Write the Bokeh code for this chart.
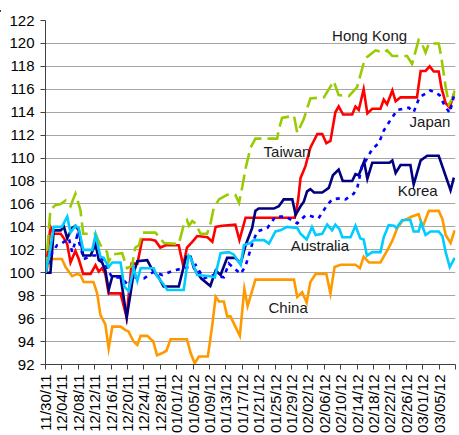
import math
from bokeh.plotting import figure
from bokeh.models import FixedTicker, Label, Range1d, Div
from bokeh.layouts import column
from bokeh.embed import file_html
from bokeh.resources import INLINE

# x = days since 11/30/11
tick_days = [0, 4, 8, 12, 16, 20, 24, 28, 32, 36, 40, 44, 48, 52, 56, 60, 64, 68, 72, 76, 80, 84, 88, 92, 96, 100]
tick_labels = ["11/30/11", "12/04/11", "12/08/11", "12/12/11", "12/16/11", "12/20/11", "12/24/11",
               "12/28/11", "01/01/12", "01/05/12", "01/09/12", "01/13/12", "01/17/12", "01/21/12",
               "01/25/12", "01/29/12", "02/02/12", "02/06/12", "02/10/12", "02/14/12", "02/18/12",
               "02/22/12", "02/26/12", "03/01/12", "03/05/12", ""]
y_ticks = [92, 94, 96, 98, 100, 102, 104, 106, 108, 110, 112, 114, 116, 118, 120, 122]

china = [(0, 100), (1.2, 101.2), (4.0, 101.2), (4.9, 100.5), (6.5, 99.7), (7.7, 99.9), (8.5, 99.8), (9.3, 99.2),
         (11.7, 99.2), (12.6, 98.2), (13.4, 96.3), (14.6, 95.5), (15.4, 93.4), (16.3, 95.3), (18.3, 95.3),
         (19.5, 95.0), (20.2, 94.9), (21.5, 94.0), (22.4, 93.7), (23.2, 94.5), (24.8, 94.5), (26.3, 94.0),
         (27.2, 92.8), (28.5, 93.0), (29.5, 93.2), (30.5, 94.2), (34.5, 94.2), (35.4, 93.0), (36.4, 92.1),
         (37.4, 92.7), (39.6, 92.7), (40.7, 95.5), (41.5, 97.9), (42.3, 97.5), (43.5, 97.5), (44.3, 96.2),
         (45.1, 96.2), (47.4, 94.5), (48.5, 98.6), (49.3, 97.1), (51.2, 99.4), (60.6, 99.4), (61.4, 97.9),
         (62.6, 98.3), (63.7, 97.4), (64.6, 99.2), (65.9, 99.9), (68.5, 99.9), (69.5, 98.2), (70.5, 100.5),
         (72.0, 100.7), (75.6, 100.7), (76.7, 100.4), (77.6, 101.4), (78.9, 100.9), (81.7, 100.9),
         (83.3, 101.9), (84.6, 102.8), (85.8, 103.9), (87.0, 104.5), (89.4, 104.9), (91.0, 105.1),
         (92.0, 104.0), (93.5, 105.4), (95.9, 105.4), (96.8, 104.7), (97.6, 103.3), (98.8, 102.6), (99.8, 103.7)]

taiwan = [(0, 100), (1.2, 104.0), (1.9, 103.4), (3.7, 103.4), (4.5, 103.0), (5.3, 102.5), (6.1, 100.9),
          (7.3, 101.9), (8.1, 101.2), (9.2, 99.9), (11.0, 99.9), (12.2, 100.65), (13.0, 100.1), (13.8, 100.4),
          (14.6, 99.9), (15.4, 98.2), (18.3, 98.2), (19.8, 96.1), (21.0, 100.8), (22.4, 100.8), (23.6, 102.9),
          (25.6, 102.9), (26.8, 102.8), (28.0, 102.2), (29.3, 102.4), (32.5, 102.4), (33.6, 100.6),
          (34.5, 102.2), (35.8, 102.7), (37.0, 103.2), (39.5, 103.1), (40.7, 102.7), (41.5, 104.0),
          (43.1, 104.1), (46.3, 104.2), (47.3, 102.85), (48.8, 104.8), (60.8, 104.8), (61.6, 106.3),
          (62.2, 108.25), (63.4, 109.3), (64.6, 110.9), (66.3, 112.1), (67.5, 112.1), (68.5, 111.3),
          (69.5, 111.5), (70.7, 114.0), (71.5, 114.5), (72.6, 113.8), (74.8, 113.8), (75.6, 114.5),
          (76.4, 114.2), (77.6, 116.0), (78.5, 113.9), (79.7, 114.3), (81.7, 114.3), (82.5, 115.1),
          (83.3, 114.7), (84.6, 115.9), (85.4, 114.95), (86.6, 115.3), (90.6, 115.3), (91.5, 117.6),
          (92.7, 117.6), (93.7, 118.0), (94.7, 117.55), (95.9, 117.55), (96.6, 116.1), (97.6, 114.8),
          (98.6, 114.4), (99.6, 115.6)]

korea = [(0, 100), (1.2, 100), (2.0, 103.7), (3.7, 103.7), (4.5, 104.0), (5.3, 103.0), (6.5, 103.9),
         (7.3, 104.1), (8.1, 103.7), (9.2, 101.5), (11.0, 101.5), (12.2, 102.5), (13.0, 101.1), (13.8, 100.9),
         (14.6, 100.2), (15.4, 98.5), (16.3, 99.7), (18.3, 99.7), (19.8, 96.1), (20.7, 98.1), (21.5, 100.0),
         (22.4, 101.0), (24.8, 101.1), (26.0, 100.3), (27.6, 99.6), (28.8, 98.8), (32.5, 98.8), (34.3, 101.4),
         (35.4, 101.4), (36.2, 100.4), (38.0, 99.5), (40.2, 98.85), (41.5, 100.2), (42.7, 99.8), (44.3, 101.3),
         (46.3, 101.3), (47.6, 100.8), (48.8, 102.4), (50.4, 103.9), (51.2, 105.4), (52.0, 105.6),
         (55.7, 105.6), (56.9, 105.8), (58.1, 106.4), (60.2, 106.4), (61.0, 105.05), (62.2, 105.8),
         (63.0, 106.2), (63.8, 107.1), (64.6, 107.3), (65.5, 107.0), (67.5, 107.0), (69.1, 107.4),
         (70.1, 108.5), (71.5, 109.0), (72.5, 108.0), (74.8, 108.0), (75.6, 108.6), (76.4, 108.5),
         (77.7, 109.7), (78.5, 108.2), (79.7, 109.6), (83.9, 109.6), (84.6, 109.8), (85.4, 108.7),
         (86.6, 109.4), (89.0, 109.4), (89.8, 107.7), (91.5, 109.8), (93.1, 110.2), (95.9, 110.2),
         (98.8, 107.2), (99.6, 108.3)]

hong_kong = [(0, 100), (1.2, 105.5), (2.4, 105.9), (3.7, 106.0), (4.9, 106.3), (6.1, 105.8), (7.3, 106.9),
             (8.5, 105.5), (9.2, 103.4), (12.2, 103.4), (13.4, 102.4), (14.2, 102.2), (15.0, 101.8),
             (15.4, 100.95), (16.3, 101.6), (18.7, 101.7), (19.9, 100.4), (21.1, 100.6), (21.9, 102.2),
             (22.8, 102.4), (23.6, 103.5), (26.8, 103.5), (28.9, 102.6), (32.5, 102.5), (33.8, 104.3),
             (34.5, 104.6), (35.0, 104.1), (35.8, 104.5), (36.6, 104.3), (37.8, 103.4), (39.4, 103.4),
             (40.2, 104.2), (41.0, 105.6), (42.3, 106.4), (44.3, 106.8), (46.3, 106.8), (47.2, 106.1),
             (48.0, 107.5), (48.8, 109.1), (50.0, 110.9), (51.2, 111.7), (56.5, 111.7), (56.9, 112.5),
             (57.7, 113.5), (60.6, 113.7), (61.4, 112.2), (63.0, 113.4), (64.6, 115.2), (67.9, 115.3),
             (70.3, 116.7), (71.5, 115.5), (74.0, 115.4), (76.0, 116.2), (77.7, 118.4), (78.4, 118.8),
             (80.5, 119.4), (82.5, 119.2), (83.3, 119.4), (84.6, 118.9), (88.2, 118.9), (89.4, 118.2),
             (91.0, 120.3), (91.8, 120.0), (92.7, 119.2), (93.5, 120.0), (95.9, 120.0), (96.5, 118.9),
             (97.6, 116.2), (98.4, 114.7), (99.3, 115.2), (100, 116.15)]

japan = [(0, 100), (1.2, 101.5), (2.8, 102.4), (3.7, 102.5), (5.7, 103.0), (6.5, 101.8), (7.7, 103.2),
         (8.5, 102.3), (9.3, 101.2), (11.4, 101.5), (12.2, 101.5), (14.2, 101.1), (15.4, 100.1), (16.3, 99.6),
         (18.3, 99.6), (20.3, 98.9), (21.1, 99.6), (24.0, 99.5), (26.4, 100.1), (28.5, 99.8), (31.3, 100.2),
         (35.0, 100.5), (36.6, 100.7), (38.6, 99.5), (41.0, 99.8), (43.5, 99.6), (44.7, 100.8), (47.6, 99.9),
         (48.8, 100.6), (50.4, 102.5), (51.6, 103.6), (54.1, 103.9), (56.1, 104.9), (58.5, 104.9),
         (61.4, 104.3), (63.4, 105.0), (64.2, 105.0), (66.6, 104.75), (68.5, 105.8), (69.9, 106.4),
         (72.0, 106.5), (73.2, 106.4), (75.2, 106.9), (76.1, 107.5), (77.2, 109.3), (78.0, 109.7),
         (79.7, 110.8), (81.3, 111.3), (82.5, 112.4), (84.1, 113.3), (85.8, 114.2), (88.6, 114.4),
         (89.8, 114.0), (91.2, 115.3), (93.9, 115.9), (96.1, 115.5), (97.3, 114.6), (98.6, 113.95),
         (99.6, 115.4)]

australia = [(0, 100), (1.2, 102.1), (2.0, 104.0), (4.0, 104.0), (5.3, 104.9), (6.1, 103.5), (7.3, 104.1),
             (8.1, 103.9), (9.2, 102.0), (11.4, 102.0), (12.2, 103.3), (13.4, 101.4), (14.2, 101.3),
             (15.4, 100.5), (16.3, 100.9), (18.3, 100.9), (19.2, 98.8), (20.3, 98.4), (21.5, 100.4),
             (22.4, 99.3), (23.2, 100.4), (26.4, 100.4), (27.2, 99.7), (28.8, 99.0), (29.7, 98.5),
             (33.7, 98.5), (34.9, 101.5), (35.4, 101.3), (37.0, 99.8), (40.2, 99.7), (41.3, 99.6),
             (42.7, 101.7), (44.7, 101.8), (45.9, 101.6), (47.6, 100.7), (48.4, 102.4), (50.0, 102.6),
             (50.8, 102.85), (53.3, 102.85), (54.5, 102.55), (56.1, 103.6), (57.3, 103.7), (58.9, 104.0),
             (61.4, 103.9), (62.2, 103.4), (63.7, 102.9), (65.0, 104.0), (65.9, 103.3), (67.5, 103.4),
             (68.7, 104.2), (69.9, 103.7), (70.7, 104.2), (71.7, 103.8), (72.4, 103.1), (74.4, 103.1),
             (75.6, 104.1), (76.8, 103.0), (77.6, 102.9), (78.4, 101.5), (79.7, 101.8), (81.7, 101.8),
             (82.5, 103.1), (83.7, 104.15), (85.0, 104.1), (85.6, 103.9), (87.0, 104.6), (89.0, 104.6),
             (89.8, 103.6), (91.0, 103.6), (91.6, 104.4), (92.7, 103.3), (93.9, 103.6), (95.9, 103.6),
             (96.8, 103.2), (97.6, 101.8), (98.6, 100.5), (99.8, 101.3)]

series_labels = [("Hong Kong", 69.9, 120.7), ("Japan", 88.8, 113.2), ("Taiwan", 53.2, 110.6),
                 ("Korea", 85.9, 107.2), ("Australia", 59.8, 102.4), ("China", 54.4, 97.0)]

FONT = "Liberation Sans"

p = figure(width=459, height=433, x_range=Range1d(0, 100), y_range=Range1d(92, 122),
           output_backend="svg", toolbar_location=None,
           min_border_left=45, min_border_right=4, min_border_top=18, min_border_bottom=71)
p.outline_line_color = None
p.background_fill_color = "white"
p.border_fill_color = "white"
p.xgrid.visible = False
p.ygrid.ticker = FixedTicker(ticks=y_ticks)
p.ygrid.grid_line_color = "#A6A6A6"
p.ygrid.grid_line_width = 1

p.yaxis.ticker = FixedTicker(ticks=y_ticks)
p.xaxis.ticker = FixedTicker(ticks=tick_days)
p.xaxis.major_label_overrides = {d: lab for d, lab in zip(tick_days, tick_labels)}
p.xaxis.major_label_orientation = math.pi / 2
for ax in (p.xaxis, p.yaxis):
    ax.axis_line_color = "#404040"
    ax.axis_line_width = 1
    ax.major_tick_line_color = "#404040"
    ax.major_tick_out = 5
    ax.major_tick_in = 0
    ax.minor_tick_line_color = None
    ax.major_label_text_font = FONT
    ax.major_label_text_font_size = "15px"
    ax.major_label_text_color = "black"
p.yaxis.major_label_standoff = 6
p.xaxis.major_label_standoff = 5


def split(pairs):
    return [a for a, b in pairs], [b for a, b in pairs]


for pairs, color, dash in [(china, "#FF9900", "solid"), (taiwan, "#FF0000", "solid"),
                           (korea, "#000080", "solid"), (hong_kong, "#99CC00", "16 6"),
                           (japan, "#0000FF", "4 5"), (australia, "#00CCFF", "solid")]:
    xs, ys = split(pairs)
    p.line(xs, ys, line_color=color, line_width=2.6, line_dash=dash, line_join="miter")

for text, lx, ly in series_labels:
    p.add_layout(Label(x=lx, y=ly, text=text, text_font=FONT, text_font_size="15px",
                       text_color="#1a1a1a", text_baseline="middle", text_align="left"))

top_line = Div(text='<div style="width:459px;height:2px;background:#000;margin:0;padding:0"></div>',
               width=459, height=2, margin=0)
layout = column(top_line, p, spacing=0, margin=0)

open("out.html", "w").write(file_html(layout, INLINE))
